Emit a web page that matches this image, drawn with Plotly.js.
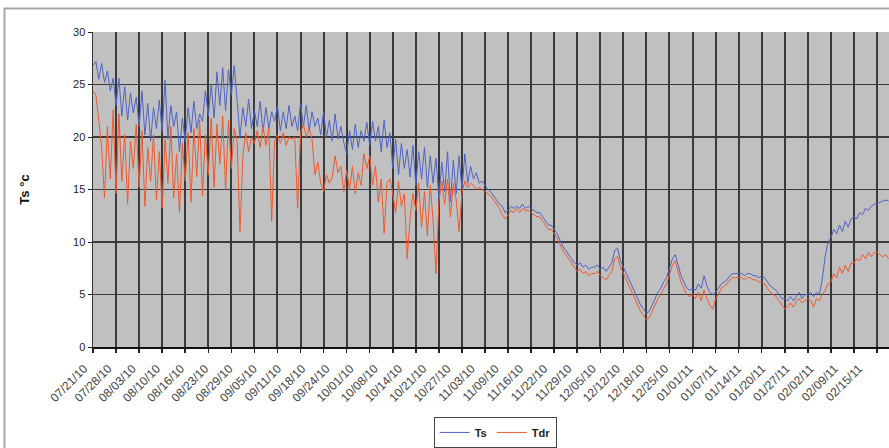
<!DOCTYPE html>
<html>
<head>
<meta charset="utf-8">
<script src="https://cdn.plot.ly/plotly-3.0.1.min.js"></script>
<style>html,body{margin:0;padding:0;background:#fff;overflow:hidden;}</style>
</head>
<body>
<div id="chart" style="width:889px;height:448px;"></div>
<script>
// Tick labels (category dates)
const dateLabels = ["07/21/10","07/28/10","08/03/10","08/10/10","08/16/10","08/23/10","08/29/10","09/05/10","09/11/10","09/18/10","09/24/10","10/01/10","10/08/10","10/14/10","10/21/10","10/27/10","11/03/10","11/09/10","11/16/10","11/22/10","11/29/10","12/05/10","12/12/10","12/18/10","12/25/10","01/01/11","01/07/11","01/14/11","01/20/11","01/27/11","02/02/11","02/09/11","02/15/11"];

// Series values, 8 samples per gridline interval
const tsValues = [
26.8,27.2,25.5,27.0,25.2,26.3,24.4,25.6,
23.0,25.6,22.0,24.8,21.6,24.2,22.3,23.8,
21.0,24.4,20.2,23.2,19.6,22.8,20.8,23.5,
20.5,25.4,19.8,23.0,21.0,22.4,18.6,21.8,
19.6,22.8,20.4,23.4,20.8,22.2,21.5,24.4,
22.0,25.0,21.8,26.2,23.0,26.6,22.5,26.4,
24.0,26.8,23.5,20.0,22.8,21.0,23.6,20.8,
22.5,21.0,23.4,20.5,22.8,20.8,22.4,21.5,
23.0,20.6,22.4,20.8,23.0,21.0,22.0,20.6,
23.2,21.0,23.0,20.6,22.4,21.0,21.8,20.2,
22.4,20.0,21.6,19.6,22.2,19.8,21.0,19.5,
18.4,20.6,18.8,21.2,19.0,20.6,19.6,21.4,
19.2,21.5,19.6,21.0,18.6,21.6,19.0,20.4,
17.0,19.8,16.4,19.4,17.0,18.8,16.2,19.2,
15.4,18.6,16.0,19.0,15.2,18.2,15.6,18.0,
14.2,17.6,14.8,18.6,13.8,17.8,14.6,18.2,
15.0,18.4,15.6,17.2,16.0,16.6,15.6,15.8,
15.4,15.0,14.8,14.4,14.0,13.6,13.4,12.8,
13.0,13.4,13.2,13.4,13.2,13.6,13.2,13.4,
13.2,13.0,12.8,12.8,12.4,12.0,11.6,11.6,
11.2,10.8,10.2,9.6,9.2,8.8,8.4,8.0,
7.8,8.0,7.6,7.8,7.4,7.6,7.6,7.8,
7.4,7.6,7.2,7.6,8.0,9.2,9.4,8.2,
7.6,7.0,6.4,5.8,5.2,4.6,4.0,3.6,
3.2,3.4,4.0,4.6,5.2,5.6,6.2,6.6,
7.4,8.4,8.8,7.8,6.8,6.2,5.6,5.4,
5.6,5.4,6.0,5.6,6.8,5.8,5.2,5.0,
5.2,5.6,6.0,6.2,6.4,6.8,7.0,7.0,
7.0,7.0,6.8,7.0,7.0,6.8,6.8,6.6,
6.8,6.6,6.2,5.8,5.6,5.4,5.0,4.6,
4.6,4.4,4.8,4.4,4.8,5.2,4.6,5.0,
5.0,5.2,4.8,5.2,5.0,6.4,8.6,10.0,
10.4,11.2,10.8,11.6,11.0,12.0,11.4,12.2,
12.4,12.2,12.8,12.6,13.2,13.0,13.4,13.6,
13.6,13.8,13.9,14.0,13.9
];
const tdrValues = [
24.4,24.0,21.6,19.0,14.2,21.0,16.0,22.6,
14.6,22.2,15.8,20.2,13.6,19.6,17.0,21.2,
15.2,20.6,13.4,19.0,15.8,20.2,14.0,18.6,
13.2,19.8,15.6,21.0,14.2,18.4,12.8,19.4,
15.8,20.4,13.8,20.8,16.2,21.6,14.4,20.2,
16.4,21.8,15.2,21.2,17.4,22.0,15.0,21.6,
17.0,20.8,19.6,11.0,18.2,20.4,18.6,20.0,
19.4,20.6,19.0,21.0,19.2,20.8,12.0,19.6,
20.2,19.4,20.4,19.2,20.0,19.8,20.0,13.2,
20.4,21.2,20.0,20.8,19.8,16.4,17.6,15.6,
14.8,16.4,15.6,16.2,18.2,16.6,17.2,14.8,
16.8,15.0,17.2,14.6,16.6,15.4,18.4,17.0,
18.2,15.4,17.2,13.8,16.0,10.8,15.6,16.0,
14.6,12.8,15.8,13.4,14.6,8.4,12.2,14.6,
13.0,15.6,11.4,14.8,10.6,15.4,12.0,7.0,
13.8,15.8,13.6,16.0,12.4,15.6,14.0,11.0,
14.6,15.8,15.2,15.6,15.4,15.0,15.2,15.0,
14.8,14.6,14.4,14.0,13.6,13.2,12.6,12.2,
12.6,13.0,12.8,13.2,12.8,13.2,13.0,13.0,
12.8,12.6,12.4,12.4,12.0,11.6,11.2,11.2,
10.8,10.4,9.8,9.2,8.8,8.4,8.0,7.6,
7.2,7.4,7.0,7.2,6.8,7.0,7.0,7.2,
6.8,6.6,6.4,6.8,7.2,8.4,8.6,7.6,
7.0,6.4,5.8,5.2,4.6,4.0,3.4,3.0,
2.6,2.8,3.4,4.0,4.6,5.0,5.6,6.0,
6.8,7.8,8.2,7.2,6.2,5.6,5.0,4.8,
5.0,4.6,5.2,4.4,5.4,4.6,4.0,3.6,
4.6,5.0,5.6,5.8,6.0,6.4,6.6,6.6,
6.6,6.6,6.4,6.6,6.6,6.4,6.4,6.2,
6.2,6.0,5.6,5.2,5.0,4.8,4.4,4.0,
3.6,3.8,4.2,3.8,4.4,4.6,4.2,4.4,
4.6,4.4,3.8,4.6,4.4,5.0,5.4,6.0,
6.2,7.0,6.6,7.6,7.0,7.8,7.2,8.0,
8.0,8.4,8.2,8.8,8.4,9.0,8.6,9.0,
9.0,8.8,8.6,8.8,8.4
];

const PTS_PER_GRID = 8;      // samples per gridline interval
const LABEL_STEP = 1.05;     // gridline units between date labels
const X_MAX = 34.52;

const xs = tsValues.map((_, i) => i / PTS_PER_GRID);
const labelPos = dateLabels.map((_, i) => i * LABEL_STEP);

const font = "Liberation Sans, Arial, sans-serif";
const gridCol = "#3a3a3a";

const traces = [
  {x: xs, y: tsValues, name: "Ts", type: "scatter", mode: "lines",
   line: {color: "#4f63c6", width: 1}},
  {x: xs, y: tdrValues, name: "Tdr", type: "scatter", mode: "lines",
   line: {color: "#f0592e", width: 1}},
  {x: [0], y: [null], xaxis: "x2", yaxis: "y", showlegend: false, hoverinfo: "skip",
   mode: "lines"}
];

const layout = {
  width: 889, height: 448,
  margin: {l: 93, r: 0, t: 32, b: 96},
  paper_bgcolor: "#ffffff",
  plot_bgcolor: "#c0c0c0",
  showlegend: true,
  font: {family: font, size: 11, color: "#222"},
  xaxis: {
    range: [0, X_MAX], dtick: 1, tick0: 0, tickmode: "linear",
    showticklabels: false, showgrid: true, gridcolor: gridCol, gridwidth: 2,
    ticks: "outside", ticklen: 4, tickcolor: "#222", tickwidth: 1.5,
    showline: true, linecolor: "#111", linewidth: 1.5, zeroline: false
  },
  xaxis2: {
    overlaying: "x", anchor: "y", side: "bottom",
    range: [0, X_MAX], tickmode: "array", tickvals: labelPos, ticktext: dateLabels,
    tickangle: -45, showgrid: false, zeroline: false, showline: false,
    ticks: "outside", ticklen: 9, tickcolor: "rgba(0,0,0,0)",
    ticklabelshift: -9,
    tickfont: {family: font, size: 12, color: "#444"}
  },
  yaxis: {
    range: [0, 30], dtick: 5, tick0: 0,
    showgrid: true, gridcolor: gridCol, gridwidth: 1.6,
    ticks: "outside", ticklen: 4, tickcolor: "#222",
    showline: true, linecolor: "#333", linewidth: 1.5, zeroline: false,
    tickfont: {family: font, size: 11, color: "#222"},
    title: {text: "Ts °c", font: {family: font, size: 13, color: "#111", weight: "bold"}, standoff: 40}
  },
  legend: {
    orientation: "h", x: 0.428, y: -0.222, xanchor: "left", yanchor: "top",
    bgcolor: "#ffffff", bordercolor: "#444", borderwidth: 1,
    font: {family: font, size: 11, color: "#222", weight: "bold"},
    itemwidth: 30, tracegroupgap: 0
  },
  shapes: [
    {type: "rect", xref: "paper", yref: "paper",
     x0: -0.1112, x1: 1.2, y0: -0.6, y1: 1.075,
     line: {color: "#a8a8a8", width: 2}, fillcolor: "rgba(0,0,0,0)", layer: "below"}
  ]
};

Plotly.newPlot("chart", traces, layout, {staticPlot: true, displayModeBar: false});
</script>
</body>
</html>
